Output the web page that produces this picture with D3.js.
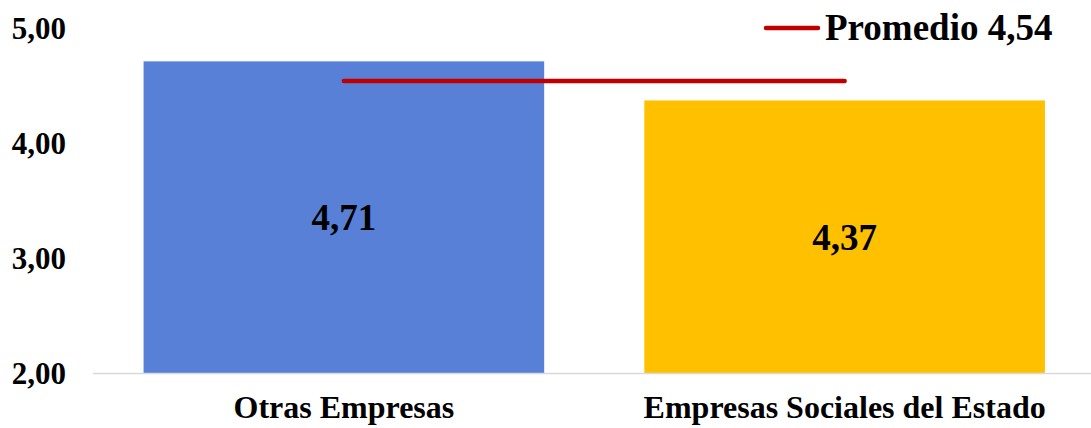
<!DOCTYPE html>
<html>
<head>
<meta charset="utf-8">
<script src="https://cdn.jsdelivr.net/npm/d3@7"></script>
<style>
  html, body { margin: 0; padding: 0; background: #fff; }
  svg { display: block; }
  text { font-family: "Liberation Serif", "Times New Roman", serif; font-weight: bold; fill: #000; }
</style>
</head>
<body>
<svg id="chart" width="1091" height="428"></svg>
<script>
const categories = ["Otras Empresas", "Empresas Sociales del Estado"];
const values = [4.71, 4.37];
const valueLabels = ["4,71", "4,37"];
const barColors = ["#5880D7", "#FFC000"];
const average = 4.54;
const legendLabel = "Promedio 4,54";
const yTicks = [2, 3, 4, 5];
const yTickLabels = ["2,00", "3,00", "4,00", "5,00"];

const svg = d3.select("#chart");

const y = d3.scaleLinear().domain([2, 5]).range([373, 28]);
const x = d3.scaleBand().domain(categories).range([93.5, 1095]).paddingInner(0.2).paddingOuter(0.1);

// bars
svg.selectAll("rect.bar").data(categories).join("rect")
  .attr("class", "bar")
  .attr("x", d => x(d))
  .attr("width", x.bandwidth())
  .attr("y", (d, i) => y(values[i]))
  .attr("height", (d, i) => y(2) - y(values[i]))
  .attr("fill", (d, i) => barColors[i]);

// y axis labels
const yAxis = d3.axisLeft(y).tickValues(yTicks).tickFormat((d, i) => yTickLabels[i]).tickSize(0).tickPadding(0);
const gy = svg.append("g").attr("transform", "translate(66,0)").call(yAxis);
gy.select(".domain").remove();
gy.selectAll("text").attr("font-size", 31).attr("font-family", "Liberation Serif").attr("font-weight", "bold").attr("fill", "#000").attr("dy", "0.34em");

// x axis baseline
svg.append("line")
  .attr("x1", 93).attr("x2", 1091)
  .attr("y1", y(2) + 0.5).attr("y2", y(2) + 0.5)
  .attr("stroke", "#d9d9d9").attr("stroke-width", 1.5);

// x labels
const xAxis = d3.axisBottom(x).tickSize(0).tickPadding(0);
const gx = svg.append("g").attr("transform", "translate(0,373)").call(xAxis);
gx.select(".domain").remove();
gx.selectAll("text").attr("font-size", 32).attr("font-family", "Liberation Serif").attr("font-weight", "bold").attr("fill", "#000").attr("y", 45).attr("dy", 0);

// value labels
svg.selectAll("text.val").data(categories).join("text")
  .attr("class", "val")
  .attr("x", d => x(d) + x.bandwidth() / 2)
  .attr("y", (d, i) => (y(values[i]) + y(2)) / 2)
  .attr("dy", "0.36em")
  .attr("text-anchor", "middle")
  .attr("font-size", 37)
  .text((d, i) => valueLabels[i]);

// average line
svg.append("line")
  .attr("x1", x(categories[0]) + x.bandwidth() / 2)
  .attr("x2", x(categories[1]) + x.bandwidth() / 2)
  .attr("y1", y(average)).attr("y2", y(average))
  .attr("stroke", "#C00000").attr("stroke-width", 4.5).attr("stroke-linecap", "round");

// legend
svg.append("line")
  .attr("x1", 766).attr("x2", 818).attr("y1", 28).attr("y2", 28)
  .attr("stroke", "#C00000").attr("stroke-width", 4.5).attr("stroke-linecap", "round");
svg.append("text")
  .attr("x", 825).attr("y", 40)
  .attr("font-size", 37)
  .text(legendLabel);
</script>
</body>
</html>
